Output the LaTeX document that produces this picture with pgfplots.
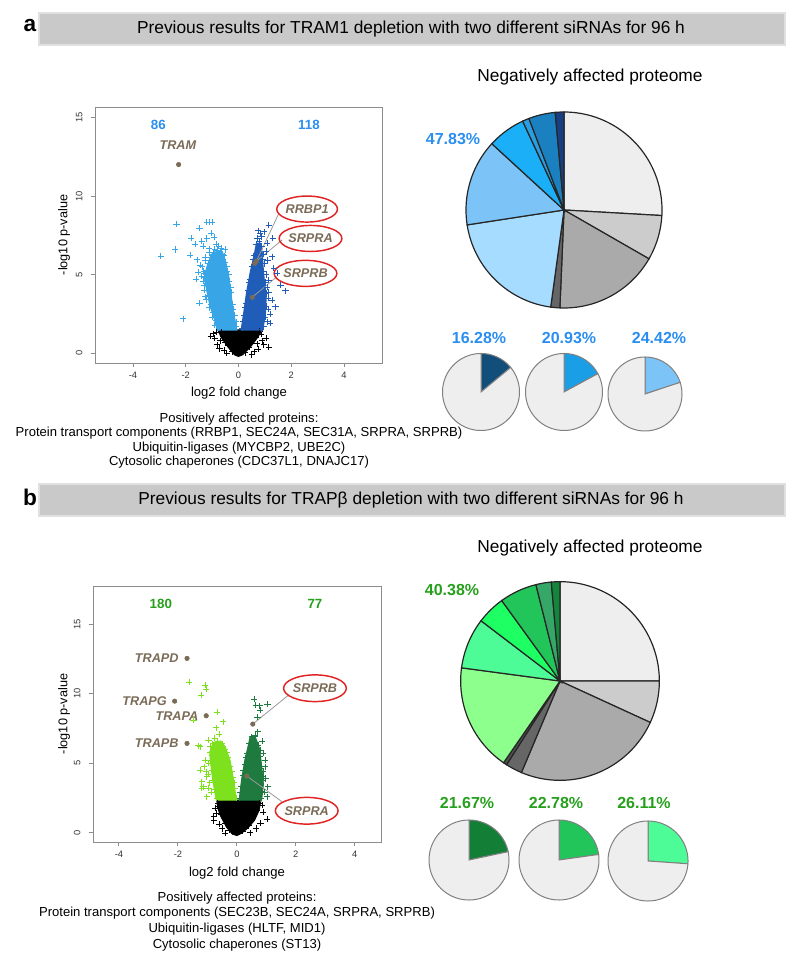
\documentclass[border=0pt]{standalone}
\usepackage{fontspec}
\setmainfont{Liberation Sans}
\usepackage{pgfplots}
\pgfplotsset{compat=1.18}
\usetikzlibrary{shapes.geometric}

\definecolor{hdr}{HTML}{C9C9C9}
\definecolor{bluetxt}{HTML}{2A8EF0}
\definecolor{greentxt}{HTML}{26A01C}
\definecolor{lab}{HTML}{7A6B57}
\definecolor{ellred}{HTML}{E02424}
\definecolor{va1}{HTML}{38A6E6}
\definecolor{va2}{HTML}{1F5DB8}
\definecolor{vb1}{HTML}{7DE11E}
\definecolor{vb2}{HTML}{1E7A3E}
\definecolor{g1}{HTML}{EEEEEE}
\definecolor{g2}{HTML}{CCCCCC}
\definecolor{g3}{HTML}{AAAAAA}
\definecolor{g4}{HTML}{666666}
\definecolor{g5}{HTML}{505050}
\definecolor{pa1}{HTML}{A6DCFF}
\definecolor{pa2}{HTML}{7CC4F8}
\definecolor{pa3}{HTML}{1AAFF7}
\definecolor{pa4}{HTML}{2A9EE0}
\definecolor{pa5}{HTML}{1B80C0}
\definecolor{pa6}{HTML}{173F84}
\definecolor{sa1}{HTML}{124E7A}
\definecolor{sa2}{HTML}{1A9FE6}
\definecolor{sa3}{HTML}{7CC4F8}
\definecolor{pb1}{HTML}{8CFF8C}
\definecolor{pb2}{HTML}{4DFC96}
\definecolor{pb3}{HTML}{1EFF63}
\definecolor{pb4}{HTML}{22C55A}
\definecolor{pb5}{HTML}{35A868}
\definecolor{pb6}{HTML}{12863A}
\definecolor{sb1}{HTML}{137E35}
\definecolor{sb2}{HTML}{22C55A}
\definecolor{sb3}{HTML}{4DFC96}

\newcommand{\fs}[1]{\fontsize{#1}{#1}\selectfont}

% pie helpers: slices clockwise from 12 o'clock, values in percent
\newcommand{\piestart}{\gdef\cum{0}}
\newcommand{\slice}[2]{%
  \pgfmathsetmacro\sB{90-3.6*\cum}%
  \pgfmathsetmacro\newcum{\cum+#1}%
  \pgfmathsetmacro\sA{90-3.6*\newcum}%
  \xdef\cum{\newcum}%
  \edef\doslice{\noexpand\addplot[fill=#2, domain=\sA:\sB, samples=90, variable=\noexpand\t] ({cos(\noexpand\t)},{sin(\noexpand\t)}) -- (axis cs:0,0) -- cycle;}%
  \doslice}

\pgfplotsset{
  volc/.style={scale only axis, anchor=south west,
    axis line style={draw=black!45, line width=0.7pt},
    tick align=outside, tick pos=left, major tick length=3.3pt,
    tick style={draw=black!45, line width=0.7pt},
    xtick={-4,-2,0,2,4}, xticklabels={-4,-2,0,2,4},
    ytick={0,5,10,15}, yticklabels={0,5,10,15},
    ticklabel style={font=\fs{7}, text=black!80},
    yticklabel style={rotate=90, anchor=south},
    yticklabel shift=2.5pt,
  },
  pie/.style={hide axis, scale only axis, clip=false, anchor=center,
    width=#1, height=#1, xmin=-1, xmax=1, ymin=-1, ymax=1},
  cloud/.style={only marks, mark=+, mark size=2.3pt, line width=0.55pt, color=#1},
  blob/.style={fill=#1, draw=#1, line width=0.8pt},
  special/.style={only marks, mark=*, mark size=1.7pt, color=lab},
}
\tikzset{
  ell/.style={ellipse, draw=ellred, line width=1.1pt, minimum width=45pt,
    minimum height=19.5pt, inner sep=0pt, font=\fs{9.5}\bfseries\itshape, text=lab},
  glab/.style={font=\fs{9.5}\bfseries\itshape, text=lab},
}

\begin{document}
\begin{tikzpicture}[x=0.75pt, y=-0.75pt]
\path[use as bounding box] (0,0) rectangle (800,969);

% ---------------- headers ----------------
\draw[fill=hdr, draw=black!12, line width=0.8pt] (39,13) rectangle (785,45);
\node[font=\fs{17}\bfseries] at (30,26) {a};
\node[font=\fs{13}] at (411,29) {Previous results for TRAM1 depletion with two different siRNAs for 96 h};

\draw[fill=hdr, draw=black!12, line width=0.8pt] (39,484) rectangle (785,516);
\node[font=\fs{17}\bfseries] at (30,497) {b};
\node[font=\fs{13}] at (411,500) {Previous results for TRAPβ depletion with two different siRNAs for 96 h};

% ---------------- volcano a ----------------
\coordinate (VA) at (95,363);
\begin{axis}[volc, at={(VA)}, width=215.25pt, height=192pt,
  xmin=-5.44, xmax=5.44, ymin=-0.62, ymax=15.66]
\addplot[blob=black] coordinates {(-0.78,1.48) (0.9,1.48) (0.72,1.0) (0.45,0.4) (0.15,-0.1) (0.0,-0.2) (-0.15,-0.1) (-0.4,0.4) (-0.65,1.0)} -- cycle;
\addplot[blob=va1] coordinates {(-0.8,1.48) (-0.06,1.48) (-0.12,2.0) (-0.24,3.2) (-0.36,4.8) (-0.5,5.9) (-0.6,6.4) (-0.8,6.5) (-1.02,6.3) (-1.18,5.6) (-1.3,4.8) (-1.18,3.8) (-1.08,3.0) (-0.92,2.2)} -- cycle;
\addplot[blob=va2] coordinates {(0.1,1.48) (0.92,1.48) (1.02,2.5) (1.05,3.6) (0.98,4.6) (0.93,5.5) (0.9,6.4) (0.84,7.0) (0.68,7.0) (0.6,6.3) (0.45,5.2) (0.3,3.8) (0.2,2.6)} -- cycle;
\addplot[cloud=black] coordinates {(-0.95,1.25) (-0.9,0.95) (-0.8,0.55) (-0.72,0.3) (-0.6,1.05) (-0.55,0.2) (-1.05,1.1) (-0.85,1.35) (-0.7,0.8) (0.85,1.2) (0.95,0.55) (1.15,0.4) (0.75,0.25) (1.05,0.95) (0.9,0.8) (0.6,0.1) (-0.45,0.0) (0.5,-0.1) (0.7,0.6) (-0.65,1.4) (0.8,1.4) (-0.4,0.5) (-0.25,0.1) (0.25,0.05) (0.4,0.4) (0.55,0.8) (-0.5,0.7) (0.65,1.0)};
\addplot[cloud=va1] coordinates {(-2.95,6.19) (-2.35,8.2) (-2.41,6.6) (-2.1,2.2) (-1.79,7.33) (-1.84,6.25) (-1.65,6.95) (-1.48,7.95) (-1.56,5.95) (-1.53,5.15) (-1.48,3.18) (-1.40,7.12) (-1.21,8.33) (-1.1,8.35) (-1.0,8.35) (-1.12,6.65) (-1.03,7.63) (-1.29,5.08) (-1.31,4.3) (-1.35,6.8) (-1.25,6.1) (-1.45,5.6) (-0.92,7.4) (-0.85,6.95) (-1.2,7.3) (-1.6,4.7) (-1.4,4.9) (-1.38,5.5) (-1.18,4.0) (-1.25,3.6)
 (-0.75,1.6) (-0.85,2.1) (-0.95,2.6) (-1.05,3.1) (-1.12,3.7) (-1.2,4.3) (-1.28,4.8) (-1.2,5.3) (-1.15,5.7) (-1.05,6.1) (-0.95,6.4) (-0.82,6.55) (-0.7,6.45) (-0.6,6.3) (-0.5,5.8) (-0.42,5.2) (-0.35,4.6) (-0.28,3.9) (-0.22,3.1) (-0.15,2.4) (-0.08,1.7) (-0.5,6.6) (-0.65,6.7) (-0.9,6.6)
 (-0.9,1.8) (-1.0,2.3) (-1.12,2.9) (-1.22,3.4) (-1.3,4.0) (-1.35,4.6) (-1.32,5.2) (-1.25,5.9) (-1.1,6.4) (-0.75,6.8) (-0.55,6.2) (-0.45,5.5) (-0.38,5.0) (-0.3,4.2) (-0.2,2.8) (-0.1,2.0)};
\addplot[cloud=va2] coordinates {(0.87,7.41) (1.15,8.15) (0.98,7.73) (1.3,7.31) (1.09,7.0) (1.28,6.14) (1.46,5.09) (1.78,3.98) (1.15,4.66) (1.34,5.4) (1.59,4.34) (0.83,7.6) (1.28,3.39) (1.4,2.96) (1.1,5.9) (1.2,2.5) (1.15,3.9) (0.75,7.8) (1.05,6.5) (1.2,1.9)
 (0.15,1.6) (0.22,2.4) (0.28,3.2) (0.35,4.0) (0.42,4.7) (0.5,5.5) (0.58,6.2) (0.66,6.9) (0.78,7.1) (0.88,6.8) (0.92,6.0) (0.95,5.2) (1.0,4.5) (1.05,3.8) (1.05,3.0) (1.0,2.3) (0.95,1.7) (0.85,1.55)
 (1.08,2.0) (1.12,2.8) (1.12,3.5) (1.08,4.2) (1.05,5.0) (0.98,5.7) (0.96,6.3) (0.72,7.3) (0.55,6.0) (0.4,4.5) (0.25,2.9) (0.18,2.0)};
\draw[black!40, line width=0.6pt] (axis cs:0.64,5.72) -- (axis cs:1.53,8.9);
\draw[black!40, line width=0.6pt] (axis cs:0.68,5.85) -- (axis cs:1.65,7.2);
\draw[black!40, line width=0.6pt] (axis cs:0.52,3.56) -- (axis cs:1.46,4.87);
\addplot[special] coordinates {(-2.27,12.0) (0.62,5.72) (0.68,5.85) (0.52,3.56)};
\node[ell] at (axis cs:2.6,9.17) {RRBP1};
\node[ell] at (axis cs:2.73,7.3) {SRPRA};
\node[ell] at (axis cs:2.54,5.08) {SRPRB};
\node[glab] at (axis cs:-2.3,13.25) {TRAM};
\node[font=\fs{10}\bfseries, text=bluetxt] at (axis cs:-3.04,14.5) {86};
\node[font=\fs{10}\bfseries, text=bluetxt] at (axis cs:2.67,14.5) {118};
\end{axis}
\node[rotate=90, font=\fs{9.5}] at (64,235) {-log10 p-value};
\node[font=\fs{9.8}] at (239,393) {log2 fold change};
\node[font=\fs{9.8}] at (239,419) {Positively affected proteins:};
\node[font=\fs{9.8}] at (239,433.5) {Protein transport components (RRBP1, SEC24A, SEC31A, SRPRA, SRPRB)};
\node[font=\fs{9.8}] at (239,448) {Ubiquitin-ligases (MYCBP2, UBE2C)};
\node[font=\fs{9.8}] at (239,462.5) {Cytosolic chaperones (CDC37L1, DNAJC17)};

% ---------------- volcano b ----------------
\coordinate (VB) at (93,842);
\begin{axis}[volc, at={(VB)}, width=216pt, height=192pt,
  xmin=-4.88, xmax=4.89, ymin=-0.67, ymax=17.76]
\addplot[blob=black] coordinates {(-0.68,2.35) (0.82,2.35) (0.75,1.6) (0.6,0.9) (0.38,0.35) (0.15,-0.05) (0.0,-0.2) (-0.15,-0.1) (-0.35,0.4) (-0.55,1.2) (-0.65,1.8)} -- cycle;
\addplot[blob=vb1] coordinates {(-0.7,2.35) (-0.02,2.35) (-0.11,3.8) (-0.23,5.2) (-0.4,6.2) (-0.55,6.6) (-0.8,6.5) (-0.92,5.8) (-0.9,5.2) (-0.82,3.8)} -- cycle;
\addplot[blob=vb2] coordinates {(0.08,2.35) (0.84,2.35) (0.9,3.5) (0.82,5.2) (0.75,6.2) (0.62,6.9) (0.45,6.9) (0.38,6.2) (0.27,5.2) (0.16,3.8)} -- cycle;
\addplot[cloud=black] coordinates {(-0.79,1.15) (-0.74,1.75) (-0.79,0.86) (-0.7,1.4) (-0.6,0.6) (-0.5,0.3) (1.02,0.96) (0.9,1.5) (0.8,0.7) (0.65,0.3) (-0.65,2.1) (0.85,2.0) (-0.4,-0.05) (0.45,0.0)
 (-0.6,1.9) (-0.52,1.3) (-0.4,0.7) (-0.25,0.2) (0.2,0.1) (0.4,0.5) (0.55,1.0) (0.68,1.6) (0.78,2.1)};
\addplot[cloud=vb1] coordinates {(-1.61,10.84) (-1.07,10.63) (-1.05,10.35) (-1.22,9.9) (-0.66,8.66) (-1.47,8.1) (-0.47,7.99) (-0.7,7.55) (-1.24,6.19) (-0.96,6.67) (-1.07,5.23) (-1.04,4.39) (-1.13,3.31) (-0.96,3.19) (-1.19,3.67) (-1.11,4.75) (-0.85,5.59) (-1.3,6.26) (-0.9,6.19) (-1.24,4.51) (-1.02,4.03) (-1.19,3.19) (-1.02,2.59) (-0.6,7.1) (-0.95,5.0)
 (-0.68,2.5) (-0.75,3.1) (-0.8,3.8) (-0.85,4.5) (-0.9,5.2) (-0.9,5.8) (-0.82,6.4) (-0.65,6.6) (-0.5,6.4) (-0.4,6.0) (-0.3,5.4) (-0.22,4.8) (-0.15,4.0) (-0.08,3.2) (-0.03,2.5)
 (-0.88,2.9) (-0.92,3.6) (-0.98,4.2) (-0.75,6.8) (-0.35,5.8) (-0.18,4.4) (-0.1,3.6)};
\addplot[cloud=vb2] coordinates {(0.59,9.6) (1.04,9.24) (0.79,8.83) (0.64,9.2) (0.77,9.14) (0.71,7.27) (0.56,6.67) (0.79,5.95) (0.96,4.75) (0.9,4.03) (0.9,5.71) (0.96,5.23) (0.85,3.79) (1.02,2.59) (0.7,8.3) (1.05,3.3) (0.62,7.0)
 (0.1,2.5) (0.14,3.3) (0.2,4.1) (0.27,4.9) (0.35,5.7) (0.42,6.4) (0.5,6.9) (0.62,6.9) (0.72,6.3) (0.78,5.5) (0.82,4.6) (0.86,3.8) (0.85,3.0) (0.8,2.45)
 (0.95,2.9) (0.98,3.9) (0.9,4.4) (0.85,6.6) (0.3,5.4) (0.22,4.5) (0.12,2.9)};
\draw[black!40, line width=0.6pt] (axis cs:0.54,7.82) -- (axis cs:1.75,9.9);
\draw[black!40, line width=0.6pt] (axis cs:0.34,4.08) -- (axis cs:1.53,2.23);
\addplot[special] coordinates {(-1.69,12.55) (-2.11,9.47) (-1.04,8.42) (-1.69,6.43) (0.54,7.82) (0.34,4.08)};
\node[ell, minimum width=46.5pt, minimum height=20pt] at (axis cs:2.65,10.4) {SRPRB};
\node[ell, minimum width=46.5pt, minimum height=20pt] at (axis cs:2.37,1.58) {SRPRA};
\node[glab, anchor=east] at (axis cs:-1.82,12.55) {TRAPD};
\node[glab, anchor=east] at (axis cs:-2.22,9.47) {TRAPG};
\node[glab, anchor=east] at (axis cs:-1.15,8.42) {TRAPA};
\node[glab, anchor=east] at (axis cs:-1.82,6.43) {TRAPB};
\node[font=\fs{10}\bfseries, text=greentxt] at (axis cs:-2.58,16.5) {180};
\node[font=\fs{10}\bfseries, text=greentxt] at (axis cs:2.65,16.5) {77};
\end{axis}
\node[rotate=90, font=\fs{9.5}] at (64,714) {-log10 p-value};
\node[font=\fs{9.8}] at (237,873) {log2 fold change};
\node[font=\fs{9.8}] at (237,898.5) {Positively affected proteins:};
\node[font=\fs{9.8}] at (237,913) {Protein transport components (SEC23B, SEC24A, SRPRA, SRPRB)};
\node[font=\fs{9.8}] at (237,929) {Ubiquitin-ligases (HLTF, MID1)};
\node[font=\fs{9.8}] at (237,945) {Cytosolic chaperones (ST13)};

% ---------------- pies a ----------------
\node[font=\fs{13}] at (590,77) {Negatively affected proteome};
\coordinate (PA) at (564,210);
\begin{axis}[pie=147pt, at={(PA)}, every axis plot/.append style={draw=black!85, line width=0.9pt}]
\piestart
\slice{25.9}{g1}
\slice{7.4}{g2}
\slice{17.37}{g3}
\slice{1.5}{g4}
\slice{20.4}{pa1}
\slice{14.25}{pa2}
\slice{6.25}{pa3}
\slice{1.1}{pa4}
\slice{4.4}{pa5}
\slice{1.43}{pa6}
\end{axis}
\node[font=\fs{12}\bfseries, text=bluetxt] at (453,139) {47.83\%};

\coordinate (SA1) at (481,392);
\begin{axis}[pie=57.75pt, at={(SA1)}, every axis plot/.append style={draw=black!50, line width=0.75pt}]
\piestart
\slice{14.0}{sa1}
\slice{86.0}{g1}
\end{axis}
\coordinate (SA2) at (564,392);
\begin{axis}[pie=57.75pt, at={(SA2)}, every axis plot/.append style={draw=black!50, line width=0.75pt}]
\piestart
\slice{17.1}{sa2}
\slice{82.9}{g1}
\end{axis}
\coordinate (SA3) at (645,394);
\begin{axis}[pie=55.5pt, at={(SA3)}, every axis plot/.append style={draw=black!50, line width=0.75pt}]
\piestart
\slice{19.9}{sa3}
\slice{80.1}{g1}
\end{axis}
\node[font=\fs{12}\bfseries, text=bluetxt] at (479,338) {16.28\%};
\node[font=\fs{12}\bfseries, text=bluetxt] at (569,338) {20.93\%};
\node[font=\fs{12}\bfseries, text=bluetxt] at (659,338) {24.42\%};

% ---------------- pies b ----------------
\node[font=\fs{13}] at (590,548) {Negatively affected proteome};
\coordinate (PB) at (560,681);
\begin{axis}[pie=149pt, at={(PB)}, every axis plot/.append style={draw=black!85, line width=0.9pt}]
\piestart
\slice{25.0}{g1}
\slice{6.85}{g2}
\slice{24.5}{g3}
\slice{2.7}{g4}
\slice{0.57}{g5}
\slice{17.5}{pb1}
\slice{8.25}{pb2}
\slice{4.65}{pb3}
\slice{6.08}{pb4}
\slice{2.5}{pb5}
\slice{1.4}{pb6}
\end{axis}
\node[font=\fs{12}\bfseries, text=greentxt] at (452,590) {40.38\%};

\coordinate (SB1) at (469,860);
\begin{axis}[pie=60pt, at={(SB1)}, every axis plot/.append style={draw=black!50, line width=0.75pt}]
\piestart
\slice{21.67}{sb1}
\slice{78.33}{g1}
\end{axis}
\coordinate (SB2) at (559,860);
\begin{axis}[pie=60pt, at={(SB2)}, every axis plot/.append style={draw=black!50, line width=0.75pt}]
\piestart
\slice{22.78}{sb2}
\slice{77.22}{g1}
\end{axis}
\coordinate (SB3) at (648,861);
\begin{axis}[pie=60pt, at={(SB3)}, every axis plot/.append style={draw=black!50, line width=0.75pt}]
\piestart
\slice{26.11}{sb3}
\slice{73.89}{g1}
\end{axis}
\node[font=\fs{12}\bfseries, text=greentxt] at (467,803) {21.67\%};
\node[font=\fs{12}\bfseries, text=greentxt] at (556,803) {22.78\%};
\node[font=\fs{12}\bfseries, text=greentxt] at (644,803) {26.11\%};
\end{tikzpicture}
\end{document}
